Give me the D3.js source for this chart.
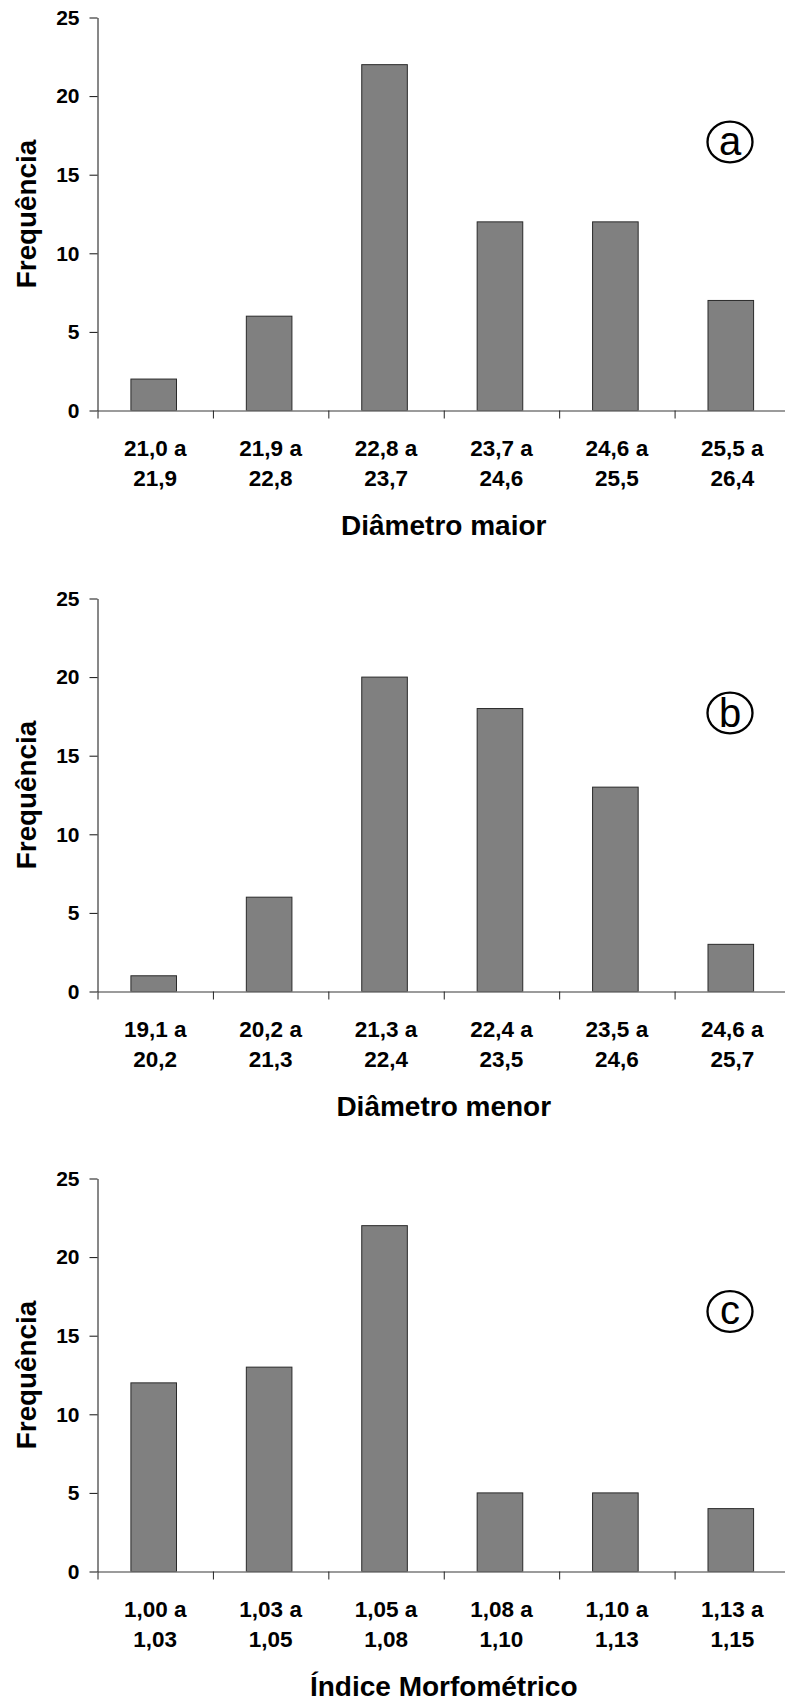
<!DOCTYPE html>
<html>
<head>
<meta charset="utf-8">
<script src="https://cdn.jsdelivr.net/npm/d3@7"></script>
<style>
    body { margin: 0; background: #fff; }
    svg { display: block; font-family: "Liberation Sans", Arial, sans-serif; }
    .x-axis path { stroke: #7a7a7a; stroke-width: 1.5; }
    .x-axis line { stroke: #222; }
    .y-axis path, .y-axis line { stroke: #111; }
</style>
</head>
<body>
<div id="chart"></div>
<script>

// class labels (lower a upper), one per bar
let catsA = ["21,0 a 21,9", "21,9 a 22,8", "22,8 a 23,7", "23,7 a 24,6", "24,6 a 25,5", "25,5 a 26,4"];
let catsB = ["19,1 a 20,2", "20,2 a 21,3", "21,3 a 22,4", "22,4 a 23,5", "23,5 a 24,6", "24,6 a 25,7"];
let catsC = ["1,00 a 1,03", "1,03 a 1,05", "1,05 a 1,08", "1,08 a 1,10", "1,10 a 1,13", "1,13 a 1,15"];

// frequencies
let freqA = [2, 6, 22, 12, 12, 7];
let freqB = [1, 6, 20, 18, 13, 3];
let freqC = [12, 13, 22, 5, 5, 4];

let titles = ["Diâmetro maior", "Diâmetro menor", "Índice Morfométrico"];
let tags = ["a", "b", "c"];
let yTicks = [0, 5, 10, 15, 20, 25];

let width = 785,
    height = 1700;

let panelTop = [17.5, 598.5, 1178.5],   //top of each plot (value 25)
    plotH = 393,
    left = 97.5,
    right = 790,    //last band runs past the page edge, like the original
    tagDy = [124.5, 114.5, 133];

let svg = d3.select("#chart")
    .append("svg")
    .attr("width", width)
    .attr("height", height);

let panels = [
    {cats: catsA, freq: freqA},
    {cats: catsB, freq: freqB},
    {cats: catsC, freq: freqC}
];

panels.forEach(function(p, i) {
    drawPanel(p.cats, p.freq, titles[i], tags[i], panelTop[i], tagDy[i]);
});

function drawPanel(cats, freq, title, tag, top, tagOffset) {

    let g = svg.append("g")
        .attr("transform", "translate(0," + top + ")");

    let x = d3.scaleBand()
        .domain(cats)
        .range([left, right])
        .paddingInner(0.605)
        .paddingOuter(0.3025);

    let edges = d3.scaleLinear()   //band boundaries for the x tick marks
        .domain([0, cats.length])
        .range([left, right]);

    let y = d3.scaleLinear()
        .domain([0, 25])
        .range([plotH, 0]);

    g.selectAll("rect.bar")
        .data(freq)
        .enter()
        .append("rect")
        .attr("class", "bar")
        .attr("x", function(d, j) { return x(cats[j]) - 1.5; })
        .attr("y", function(d) { return y(d); })
        .attr("width", x.bandwidth())
        .attr("height", function(d) { return plotH - y(d); })
        .style("fill", "#808080")
        .style("stroke", "#2a2a2a")
        .style("stroke-width", 1);

    let yAxis = g.append("g")
        .attr("class", "y-axis")
        .attr("transform", "translate(" + left + ",0)")
        .call(d3.axisLeft(y).tickValues(yTicks).tickSize(8).tickSizeOuter(0).tickPadding(10));

    yAxis.selectAll("text")
        .style("font-size", "21px")
        .style("font-weight", "bold")
        .style("fill", "#000");

    let xAxis = g.append("g")
        .attr("class", "x-axis")
        .attr("transform", "translate(0," + plotH + ")")
        .call(d3.axisBottom(edges).tickValues(d3.range(cats.length + 1)).tickSize(8).tickSizeOuter(0).tickFormat(""));

    // two line category labels
    let labels = g.selectAll("text.cat")
        .data(cats)
        .enter()
        .append("text")
        .attr("class", "cat")
        .attr("text-anchor", "middle")
        .style("font-size", "22.5px")
        .style("font-weight", "bold");

    labels.append("tspan")
        .attr("x", function(d) { return x(d) + x.bandwidth() / 2; })
        .attr("y", plotH + 45.5)
        .text(function(d) { return d.slice(0, d.lastIndexOf(" ")); });

    labels.append("tspan")
        .attr("x", function(d) { return x(d) + x.bandwidth() / 2; })
        .attr("y", plotH + 75)
        .text(function(d) { return d.slice(d.lastIndexOf(" ") + 1); });

    g.append("text")
        .attr("x", (left + right) / 2)
        .attr("y", plotH + 124)
        .attr("text-anchor", "middle")
        .style("font-size", "28px")
        .style("font-weight", "bold")
        .text(title);

    g.append("text")
        .attr("transform", "translate(36," + (plotH / 2) + ") rotate(-90)")
        .attr("text-anchor", "middle")
        .style("font-size", "27.8px")
        .style("font-weight", "bold")
        .text("Frequência");

    // circled panel letter
    let tagG = g.append("g")
        .attr("transform", "translate(730," + tagOffset + ")");

    tagG.append("ellipse")
        .attr("rx", 22.5)
        .attr("ry", 20.3)
        .style("fill", "none")
        .style("stroke", "#000")
        .style("stroke-width", 2.3);

    tagG.append("text")
        .attr("y", tag === "b" ? 14.3 : 12.5)
        .attr("text-anchor", "middle")
        .style("font-size", "40px")
        .text(tag);
}

</script>
</body>
</html>
